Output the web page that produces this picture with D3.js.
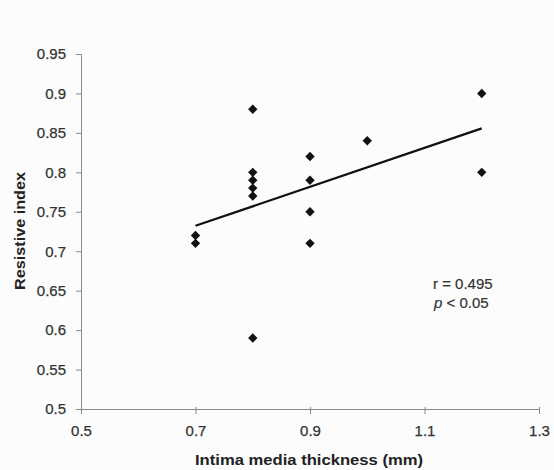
<!DOCTYPE html>
<html><head><meta charset="utf-8">
<script src="https://cdn.jsdelivr.net/npm/d3@7"></script>
<style>html,body{margin:0;padding:0;background:#fcfcfc;}svg{display:block;}</style>
</head><body>
<svg id="c" width="554" height="470"></svg>
<script>
const imt = [0.7,0.7,0.8,0.8,0.8,0.8,0.8,0.8,0.9,0.9,0.9,0.9,1.0,1.2,1.2];
const ri  = [0.72,0.71,0.88,0.80,0.79,0.78,0.77,0.59,0.82,0.79,0.75,0.71,0.84,0.90,0.80];
const xTicks = [0.5,0.7,0.9,1.1,1.3];
const yTicks = [0.5,0.55,0.6,0.65,0.7,0.75,0.8,0.85,0.9,0.95];
const annot = ["r = 0.495","p < 0.05"];

const svg = d3.select("#c");
const font = "Liberation Sans, Arial, sans-serif";
const x = d3.scaleLinear().domain([0.5,1.3]).range([81,539]);
const y = d3.scaleLinear().domain([0.5,0.95]).range([409,54]);

// y axis
const gy = svg.append("g").attr("transform","translate(81,0)")
  .call(d3.axisLeft(y).tickValues(yTicks).tickSize(5).tickPadding(10).tickFormat(d=>+d.toFixed(2)));
gy.select(".domain").attr("stroke","#8a8a8a");
gy.selectAll(".tick line").attr("stroke","#8a8a8a");
gy.selectAll("text").attr("font-family",font).attr("font-size",15).attr("fill","#333")
  .attr("stroke","#333").attr("stroke-width",0.25);

// x axis
const gx = svg.append("g").attr("transform","translate(0,409)")
  .call(d3.axisBottom(x).tickValues(xTicks).tickSize(5).tickPadding(11).tickFormat(d=>+d.toFixed(1)));
gx.select(".domain").attr("stroke","#8a8a8a");
gx.selectAll(".tick line").attr("stroke","#8a8a8a").attr("y1",-2);
gx.selectAll("text").attr("font-family",font).attr("font-size",15).attr("fill","#333")
  .attr("stroke","#333").attr("stroke-width",0.25);

// regression line
const n = imt.length, mx = d3.mean(imt), my = d3.mean(ri);
let sxy=0,sxx=0; for(let i=0;i<n;i++){sxy+=(imt[i]-mx)*(ri[i]-my);sxx+=(imt[i]-mx)**2;}
const b = sxy/sxx, a = my-b*mx;
const [x0,x1] = d3.extent(imt);
svg.append("line").attr("x1",x(x0)).attr("y1",y(a+b*x0)).attr("x2",x(x1)).attr("y2",y(a+b*x1))
  .attr("stroke","#111").attr("stroke-width",2.2);

// points
svg.append("g").selectAll("path").data(imt.map((v,i)=>[v,ri[i]])).join("path")
  .attr("d",d3.symbol().type(d3.symbolDiamond2).size(56))
  .attr("transform",d=>`translate(${x(d[0])},${y(d[1])})`).attr("fill","#111");

// titles
svg.append("text").attr("x",309).attr("y",465).attr("text-anchor","middle")
  .attr("font-family",font).attr("font-weight","bold").attr("font-size",15).attr("fill","#222")
  .attr("textLength",228).attr("lengthAdjust","spacingAndGlyphs")
  .text("Intima media thickness (mm)");
svg.append("text").attr("transform","translate(25,231) rotate(-90)").attr("text-anchor","middle")
  .attr("font-family",font).attr("font-weight","bold").attr("font-size",15).attr("fill","#222")
  .attr("textLength",118).attr("lengthAdjust","spacingAndGlyphs")
  .text("Resistive index");

// annotation
svg.append("text").attr("x",433).attr("y",289).attr("font-family",font).attr("font-size",15).attr("fill","#333")
  .attr("stroke","#333").attr("stroke-width",0.2).text(annot[0]);
const t2 = svg.append("text").attr("x",434).attr("y",308).attr("font-family",font).attr("font-size",15).attr("fill","#333")
  .attr("stroke","#333").attr("stroke-width",0.2);
t2.append("tspan").attr("font-style","italic").text(annot[1].split(" ")[0]);
t2.append("tspan").text(" " + annot[1].split(" ").slice(1).join(" "));
</script>
</body></html>
